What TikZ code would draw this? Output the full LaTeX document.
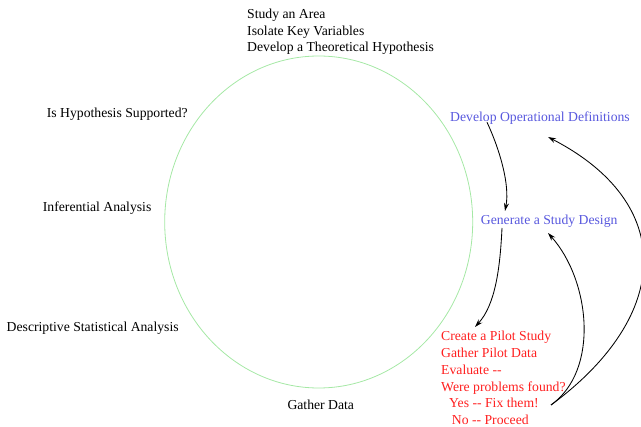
\documentclass[tikz,border=0pt]{standalone}
\usepackage{fontspec}
\setmainfont{Liberation Serif}
\usetikzlibrary{arrows.meta,calc}
\definecolor{cyclegreen}{RGB}{165,232,165}
\definecolor{stepblue}{RGB}{88,88,222}
\definecolor{pilotred}{RGB}{255,32,32}
\begin{document}
\begin{tikzpicture}[x=1pt,y=-1pt,
  lbl/.style={inner sep=0pt, anchor=base west, font=\fontsize{13.7}{16.7}\selectfont},
  flow/.style={draw=black, line width=0.85pt, -{Stealth[length=8pt,width=5pt]}}]
\useasboundingbox (0,0) rectangle (641,427);

% the research cycle
\draw[cyclegreen, line width=0.8pt] (318.7,222) ellipse [x radius=154, y radius=166];

% stages around the cycle
\node[lbl] (study) at (247,18.5) {\begin{tabular}[t]{@{}l@{}}Study an Area\\Isolate Key Variables\\Develop a Theoretical Hypothesis\end{tabular}};
\node[lbl] (hyp) at (46.7,117.5) {Is Hypothesis Supported?};
\node[lbl] (infer) at (42.7,211.7) {Inferential Analysis};
\node[lbl] (descr) at (6.5,332) {Descriptive Statistical Analysis};
\node[lbl] (gather) at (287.3,409.3) {Gather Data};

% design stages
\node[lbl, text=stepblue] (dod) at (450,121.7) {Develop Operational Definitions};
\node[lbl, text=stepblue] (design) at (480.7,225) {Generate a Study Design};
\node[lbl, text=pilotred] (pilot) at (441,341) {\begin{tabular}[t]{@{}l@{}}Create a Pilot Study\\Gather Pilot Data\\Evaluate -{}-\\Were problems found?\\\hspace*{8pt}Yes -{}- Fix them!\\\hspace*{10.7pt}No -{}- Proceed\end{tabular}};

% forward flow
\draw[flow] ($(dod.base west)+(37,0.5)$) .. controls +(13,28) and +(5,-26) .. ($(design.base west)+(24.3,-14)$);
\draw[flow] ($(design.base west)+(21.3,3)$) .. controls +(-2,42) and +(20,-22) .. ($(pilot.base west)+(34,-14)$);

% feedback from the pilot evaluation
\draw[flow] ($(pilot.base west)+(110,64)$) .. controls +(49,-35) and +(42,47) .. ($(design.base west)+(67.3,8)$);
\draw[flow] ($(pilot.base west)+(110,64)$) .. controls +(122,-90) and +(128,66) .. ($(dod.base west)+(98,15.3)$);
\end{tikzpicture}
\end{document}
